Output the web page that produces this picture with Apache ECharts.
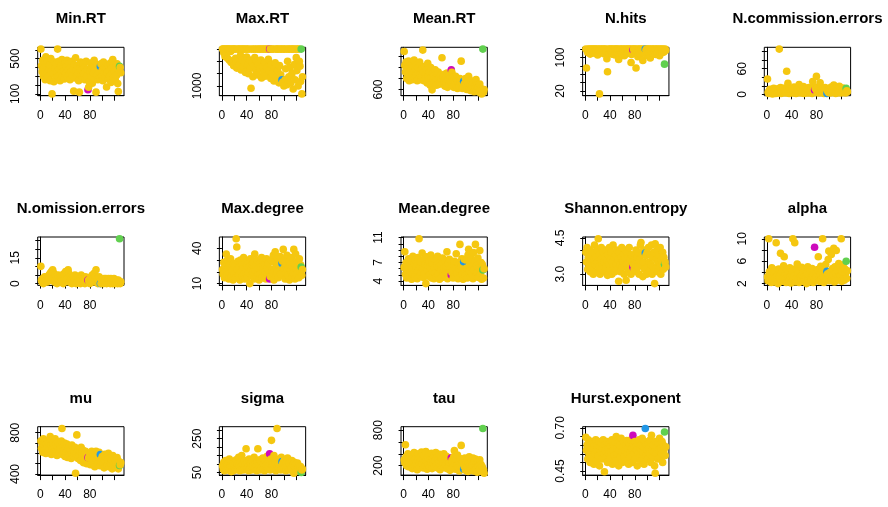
<!DOCTYPE html>
<html><head><meta charset="utf-8">
<script src="https://cdn.jsdelivr.net/npm/echarts@6/dist/echarts.min.js"></script>
<style>html,body{margin:0;padding:0;background:#fff}#chart{width:888px;height:507px}</style>
</head><body><div id="chart"></div>
<script>
// Per-subject measures, subjects 1..130 in index order.
const minRT = [608,420,350,480,300,390,455,260,520,410, 340,470,300,380,430,250,500,360,100,420,
  330,237,460,390,280,440,350,608,300,470, 380,250,420,340,490,300,400,360,270,450,
  330,410,480,290,370,440,320,260,400,350, 470,310,380,131,430,280,510,360,300,420,
  340,250,120,390,460,310,370,280,440,330, 400,260,350,470,300,380,147,175,240,360,
  450,300,390,220,410,340,480,270,370,120, 310,430,260,390,350,280,412,440,300,370,
  250,460,330,400,290,380,178,340,420,270, 360,300,450,230,390,330,490,280,410,350,
  260,400,310,440,217,127,370,412,400,340];
const maxRT = [1600,1600,1540,1600,1480,1600,1517,1600,1450,1600, 1600,1420,1600,1560,1380,1600,1378,1600,1330,1600,
  1600,1450,1378,1290,1600,1400,1600,1350,1600,1500, 1260,1600,1420,1600,1310,1600,1380,1220,1600,1470,
  1600,1350,1200,1600,1420,1290,961,1600,1380,1150, 1600,1330,1461,1600,1240,1400,1600,1180,1350,1600,
  1280,1600,1420,1130,1600,1310,1600,1220,1380,1600, 1160,1600,1300,1600,1433,1250,1600,1600,1120,1350,
  1600,1200,1600,1080,1300,1378,1600,1150,1600,1250, 1600,1050,1330,1600,1180,1600,1100,1060,1600,1000,
  1600,1100,1280,1600,1020,1400,1600,1150,1600,1300, 1050,1600,1200,1600,950,1600,1350,1100,1600,1461,
  1250,1600,1000,1600,1400,1322,1072,1600,870,1150];
const meanRT = [947,820,760,850,700,790,740,860,680,810, 770,720,830,690,800,750,870,710,780,730,
  820,680,760,800,700,850,740,690,790,720, 960,760,680,810,730,700,780,660,840,720,
  690,760,640,800,710,597,750,680,720,660, 780,700,640,740,690,760,647,710,660,730,
  690,890,650,720,680,740,630,700,660,750, 620,690,730,650,700,670,780,758,710,680,
  620,690,660,720,640,700,610,680,650,630, 700,660,859,640,610,680,676,650,620,700,
  640,600,670,630,720,610,650,590,680,620, 640,600,660,580,630,610,690,590,640,600,
  620,575,650,590,610,560,600,969,575,600];
const nHits = [120,75,118,112,120,116,120,108,119,120, 114,120,117,120,110,120,119,115,120,106,
  120,118,13,120,112,120,116,119,120,109, 120,115,120,118,97,66,120,111,119,120,
  117,120,108,120,119,114,120,106,120,118, 120,112,120,95,117,120,119,110,120,115,
  120,118,104,120,116,120,109,119,120,113, 120,117,120,88,107,120,118,120,111,120,
  119,75,120,114,102,120,118,120,108,119, 120,115,93,120,110,119,120,117,120,105,
  120,112,120,118,99,120,116,120,110,119, 120,114,120,107,119,120,112,120,118,104,
  120,116,120,111,119,120,113,84,120,117];
const nCommission = [36,5,2,8,12,3,6,10,1,7, 14,4,9,2,11,6,3,13,8,106,
  5,16,2,10,7,12,4,9,15,6, 3,54,11,26,8,2,13,5,10,7,
  14,3,9,17,6,11,2,8,12,4, 15,23,7,10,3,13,5,9,18,2,
  11,6,14,4,8,12,3,16,7,10, 5,13,2,30,9,15,10,15,12,42,
  4,17,8,11,3,27,14,7,10,5, 13,2,9,16,6,12,2,8,8,4,
  14,10,3,17,7,11,5,22,9,13, 2,16,8,12,4,10,19,6,14,3,
  11,7,15,5,12,9,3,14,8,6];
const nOmission = [10,2,1,3,0,2,4,1,3,2, 1,4,2,5,3,6,2,7,4,8,
  3,6,1,5,2,4,0,3,5,1, 2,4,1,3,5,2,0,4,6,3,
  7,2,5,3,8,6,1,4,2,3, 0,2,4,1,3,5,2,0,3,1,
  4,2,1,3,0,5,2,4,1,3, 2,0,4,1,3,2,2,2,1,0,
  3,4,2,5,1,3,6,2,4,8, 1,3,0,2,4,1,0,0,2,1,
  2,0,3,1,2,3,0,1,2,3, 1,2,0,3,1,2,0,1,3,2,
  0,1,2,1,0,2,1,26,0,1];
const maxDegree = [22,18,28,15,25,20,35,17,30,23, 14,26,19,31,16,24,21,13,27,18,
  25,15,48,41,22,29,17,24,13,30, 20,26,16,23,32,18,14,27,21,25,
  15,29,19,24,10,31,22,17,26,20, 28,14,35,21,25,16,30,19,23,13,
  27,18,24,32,15,22,29,17,26,20, 14,31,23,18,27,21,14,16,16,30,
  22,19,34,13,28,37,17,24,20,31, 15,26,21,33,18,29,27,29,39,23,
  30,14,25,19,34,22,17,28,13,26, 21,32,16,24,19,39,27,14,35,22,
  18,29,25,15,31,20,26,24,17,22];
const meanDegree = [6.2,8.7,5.1,7.0,4.5,6.6,5.8,7.6,4.8,6.9, 5.5,7.3,4.3,6.1,8.0,5.2,6.8,4.7,7.4,5.9,
  6.4,4.4,7.8,5.6,10.8,6.3,4.9,7.1,5.4,8.5, 6.0,4.6,7.5,5.3,6.7,3.6,7.9,5.7,6.5,4.8,
  7.2,5.0,6.3,8.2,4.5,6.9,5.6,7.6,4.4,6.1, 5.3,7.4,4.7,6.6,8.0,5.1,6.2,4.3,7.0,5.8,
  6.7,4.6,7.7,5.4,6.0,4.9,7.3,5.5,6.4,8.7, 4.4,6.8,5.2,7.5,4.7,6.1,5.0,5.4,5.6,4.5,
  6.5,7.2,4.8,6.0,8.4,5.3,7.0,4.4,6.6,5.9, 9.9,4.6,6.3,7.6,5.1,4.3,7.1,7.5,5.5,4.9,
  7.4,6.1,4.5,8.2,9.1,5.7,6.9,4.7,7.8,5.2, 6.4,4.4,8.6,5.8,7.2,9.9,4.8,6.5,5.4,7.7,
  4.6,6.2,8.9,5.0,7.0,4.3,6.7,5.8,4.5,6.0];
const shannon = [3.9,3.5,4.1,3.2,3.7,3.4,4.0,3.1,3.8,3.5, 3.3,3.9,3.0,3.6,4.2,3.4,3.7,3.1,4.0,3.5,
  4.46,3.3,3.8,3.0,3.6,4.1,3.4,3.2,3.9,3.5, 3.1,3.7,4.0,3.3,3.6,2.95,3.8,3.4,4.1,3.2,
  3.6,3.9,3.0,3.5,4.2,3.3,3.7,3.1,3.8,3.4, 4.0,3.2,3.6,2.71,3.9,3.4,3.1,3.7,4.1,3.3,
  3.5,3.8,3.0,3.6,4.0,2.75,3.4,3.9,3.2,3.7, 4.1,3.3,3.6,3.0,3.8,3.5,3.29,3.40,3.2,3.6,
  3.4,4.0,3.1,3.7,3.3,3.9,3.0,3.6,4.2,4.31, 3.4,3.8,2.9,3.5,4.0,3.2,3.87,3.77,3.0,3.9,
  3.3,4.1,3.5,3.1,3.8,3.4,4.2,3.0,3.7,3.3, 3.9,2.61,4.25,3.2,3.6,4.0,3.1,3.5,3.8,3.3,
  4.1,3.0,3.6,3.4,3.9,3.2,3.7,3.41,3.5,3.3];
const alpha = [3.2,2.5,10,4.1,2.8,3.6,2.2,4.8,3.0,2.6, 3.9,2.3,4.4,3.1,9.3,2.7,3.5,2.0,4.6,3.3,
  2.9,7.4,3.8,2.4,4.2,3.0,5.2,6.8,2.6,3.7, 2.2,4.5,3.1,2.8,3.9,2.5,4.8,3.3,2.1,3.6,
  4.2,10,2.7,3.4,9.3,2.3,4.7,3.0,5.5,2.6, 3.8,2.2,4.4,3.1,2.9,4.9,3.5,2.4,4.0,3.2,
  2.7,4.6,3.3,2.0,3.9,5.0,2.8,3.6,2.3,4.3, 3.0,2.5,4.7,3.4,2.2,3.8,8.5,2.9,4.1,3.2,
  2.6,4.5,6.8,3.1,2.4,3.7,5.1,2.8,4.2,10, 3.3,2.2,4.6,3.0,5.4,2.7,4.2,3.75,6.3,7.8,
  2.5,4.0,3.2,7.2,2.9,4.7,3.5,8.3,2.3,5.0, 3.8,7.9,2.6,4.4,3.1,5.6,2.8,4.9,3.4,10,
  2.4,4.1,5.3,3.0,2.6,4.6,3.7,6.0,2.9,4.3];
const mu = [720,650,700,610,740,680,630,710,600,690, 660,720,620,700,640,762,680,590,730,650,
  700,610,670,740,620,690,580,660,710,630, 600,680,640,720,841,590,660,620,700,570,
  650,610,690,560,640,600,670,580,630,550, 680,600,640,570,620,660,407,590,779,610,
  550,640,580,620,530,660,600,560,630,510, 590,540,620,570,500,600,560,555,565,580,
  490,560,620,520,580,540,600,470,560,620, 530,580,500,560,610,480,588,540,520,570,
  500,550,460,590,530,510,560,480,540,600, 470,520,560,500,540,450,580,510,490,550,
  470,530,500,560,483,450,520,483,490,510];
const sigma = [90,70,110,60,85,120,75,95,65,100, 80,130,70,90,55,115,85,60,105,75,
  95,65,125,80,100,70,140,90,60,110, 85,150,75,100,65,120,80,95,190,70,
  110,85,60,130,90,75,105,65,120,80, 95,140,70,100,85,60,115,190,75,95,
  125,65,90,110,80,135,70,100,60,120, 85,95,145,75,110,90,160,65,130,240,
  80,100,70,150,90,115,60,125,310,85, 105,75,130,95,65,140,114,100,110,70,
  125,90,60,105,85,135,75,100,65,115, 90,70,120,80,95,45,110,85,100,65,
  80,105,70,90,60,75,85,50,65,70];
const tau = [300,250,554,350,200,280,400,180,320,260, 380,220,300,150,340,270,420,190,310,240,
  360,130,290,400,210,330,170,280,430,230, 310,160,370,250,200,440,280,140,340,220,
  390,180,300,260,410,150,320,230,370,190, 280,420,210,340,160,300,250,390,130,270,
  350,200,314,240,400,170,290,220,360,150, 280,330,190,260,120,310,331,290,270,170,
  350,457,230,140,300,200,380,160,260,110, 320,190,543,240,150,280,143,185,330,120,
  260,180,300,100,240,350,160,220,130,290, 200,330,110,250,170,310,140,230,90,270,
  190,120,300,160,220,100,180,829,130,70];
const hurst = [0.645,0.57,0.60,0.52,0.63,0.55,0.59,0.50,0.61,0.56, 0.53,0.62,0.58,0.49,0.60,0.55,0.63,0.51,0.57,0.60,
  0.54,0.62,0.48,0.59,0.56,0.61,0.52,0.58,0.63,0.55, 0.446,0.60,0.57,0.53,0.62,0.50,0.58,0.55,0.61,0.52,
  0.59,0.56,0.63,0.49,0.57,0.60,0.54,0.62,0.51,0.65, 0.58,0.55,0.61,0.48,0.57,0.60,0.53,0.64,0.56,0.50,
  0.59,0.62,0.54,0.57,0.51,0.60,0.627,0.55,0.58,0.49, 0.61,0.56,0.53,0.63,0.58,0.50,0.656,0.60,0.55,0.62,
  0.52,0.59,0.57,0.48,0.61,0.55,0.63,0.53,0.58,0.60, 0.51,0.64,0.56,0.59,0.49,0.62,0.696,0.54,0.60,0.57,
  0.52,0.61,0.58,0.55,0.63,0.50,0.657,0.57,0.53,0.60, 0.56,0.48,0.437,0.62,0.55,0.59,0.52,0.61,0.57,0.64,
  0.53,0.58,0.55,0.62,0.50,0.60,0.57,0.676,0.54,0.59];

const panelTitles = ['Min.RT', 'Max.RT', 'Mean.RT', 'N.hits', 'N.commission.errors',
  'N.omission.errors', 'Max.degree', 'Mean.degree', 'Shannon.entropy', 'alpha',
  'mu', 'sigma', 'tau', 'Hurst.exponent'];
const panelValues = [minRT, maxRT, meanRT, nHits, nCommission, nOmission, maxDegree,
  meanDegree, shannon, alpha, mu, sigma, tau, hurst];

// Tick positions and the labels printed on the y axes.
const yTicks = [[100,200,300,400,500,600], [1000,1200,1400,1600], [600,700,800,900],
  [20,40,60,80,100,120], [0,20,40,60,80,100], [0,5,10,15,20,25], [10,20,30,40],
  [4,5,6,7,8,9,10,11], [3.0,3.5,4.0,4.5], [2,4,6,8,10], [400,500,600,700,800],
  [50,100,150,200,250,300], [200,400,600,800], [0.45,0.50,0.55,0.60,0.65,0.70]];
const yLabels = [['100','500'], ['1000'], ['600'], ['20','100'], ['0','60'], ['0','15'],
  ['10','40'], ['4','7','11'], ['3.0','4.5'], ['2','6','10'], ['400','800'], ['50','250'],
  ['200','800'], ['0.45','0.70']];
const xTicks = [0, 20, 40, 60, 80, 100, 120];
const xLabels = ['0', '40', '80'];

// Highlighted subjects (1-based index) and their colours.
const highlightIndex = [77, 97, 128];
const highlightColor = ['#CD0BBC', '#2297E6', '#61D04F'];
const baseColor = '#F5C710';

const FONT = 'Arial, "Liberation Sans", Helvetica, sans-serif';
const colLeft = 37.7, colStep = 181.65, rowTop = 47.3, rowStep = 189.7;
const boxW = 86.3, boxH = 48.4;

function padRange(lo, hi) { const r = hi - lo; return [lo - 0.04 * r, hi + 0.04 * r]; }

const grids = [], xAxes = [], yAxes = [], series = [], graphics = [];
panelValues.forEach((vals, k) => {
  const col = k % 5, row = Math.floor(k / 5);
  const left = colLeft + col * colStep, top = rowTop + row * rowStep;
  grids.push({ left, top, width: boxW, height: boxH, show: true,
    borderColor: '#000', borderWidth: 1, backgroundColor: 'transparent', containLabel: false });
  const xr = padRange(1, vals.length);
  const yr = padRange(Math.min(...vals), Math.max(...vals));
  const axisCommon = {
    axisLine: { show: true, lineStyle: { color: '#000', width: 1 } },
    splitLine: { show: false },
  };
  xAxes.push(Object.assign({ type: 'value', gridIndex: k, min: xr[0], max: xr[1],
    axisTick: { show: true, length: 5, customValues: xTicks, lineStyle: { color: '#000' } },
    axisLabel: { customValues: xLabels.map(Number), margin: 14, color: '#000',
      fontFamily: FONT, fontSize: 12, formatter: v => String(v) } }, axisCommon));
  const labelText = {};
  yLabels[k].forEach(s => { labelText[parseFloat(s)] = s; });
  yAxes.push(Object.assign({ type: 'value', gridIndex: k, min: yr[0], max: yr[1],
    axisTick: { show: true, length: 5, customValues: yTicks[k], lineStyle: { color: '#000' } },
    axisLabel: { customValues: yLabels[k].map(parseFloat), margin: 16, rotate: 90,
      color: '#000', fontFamily: FONT, fontSize: 12,
      formatter: v => labelText[v] !== undefined ? labelText[v] : String(v) } }, axisCommon));
  series.push({ type: 'scatter', xAxisIndex: k, yAxisIndex: k, symbol: 'circle', symbolSize: 7.6,
    silent: true, animation: false, itemStyle: { opacity: 1 },
    data: vals.map((v, i) => {
      const h = highlightIndex.indexOf(i + 1);
      return { value: [i + 1, v],
        itemStyle: { color: h >= 0 ? highlightColor[h] : baseColor, opacity: 1 } };
    }) });
  graphics.push({ type: 'text', x: left + boxW / 2, y: top - 28,
    style: { text: panelTitles[k], fill: '#000', font: 'bold 15px ' + FONT,
      textAlign: 'center', textVerticalAlign: 'middle' } });
});

const chart = echarts.init(document.getElementById('chart'), null, { renderer: 'canvas' });
chart.setOption({ animation: false, backgroundColor: '#fff', grid: grids, xAxis: xAxes,
  yAxis: yAxes, series, graphic: graphics });
</script></body></html>
